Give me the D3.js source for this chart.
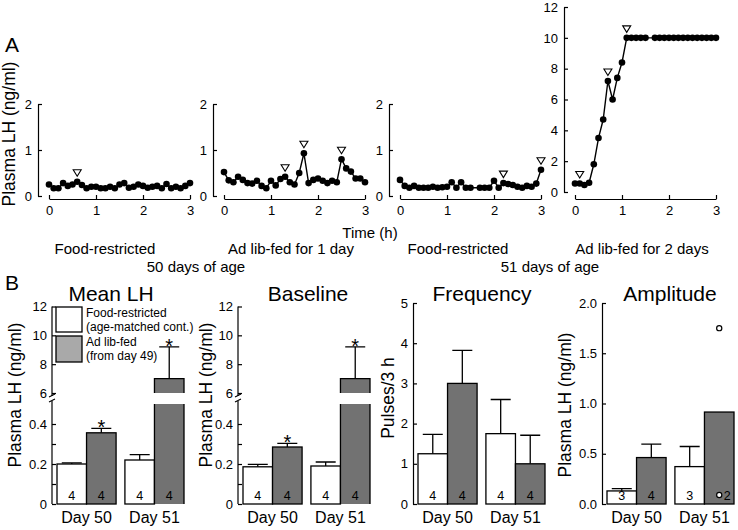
<!DOCTYPE html>
<html><head><meta charset="utf-8">
<script src="https://cdn.jsdelivr.net/npm/d3@7"></script>
<style>body{margin:0;background:#fff} text{font-family:"Liberation Sans",Arial,sans-serif}</style>
</head><body><svg id="c" width="738" height="530"></svg>
<script>
// ---------- DATA ----------
const sampleTimes = [0,0.1,0.2,0.3,0.4,0.5,0.6,0.7,0.8,0.9,1,1.1,1.2,1.3,1.4,1.5,1.6,1.7,1.8,1.9,2,2.1,2.2,2.3,2.4,2.5,2.6,2.7,2.8,2.9,3];
const lhFoodRestricted50 = [0.25,0.17,0.17,0.28,0.22,0.25,0.31,0.24,0.17,0.2,0.2,0.17,0.17,0.2,0.17,0.25,0.28,0.18,0.2,0.25,0.22,0.18,0.2,0.22,0.17,0.26,0.17,0.2,0.17,0.22,0.28];
const lhAdLib1Day = [0.52,0.34,0.3,0.42,0.35,0.28,0.27,0.33,0.22,0.17,0.33,0.23,0.37,0.42,0.3,0.25,0.5,0.93,0.28,0.35,0.38,0.33,0.28,0.33,0.3,0.8,0.6,0.53,0.38,0.38,0.3];
const lhFoodRestricted51 = [0.35,0.22,0.18,0.22,0.18,0.18,0.18,0.2,0.18,0.19,0.2,0.3,0.18,0.3,0.18,0.18,null,0.18,0.18,0.18,0.33,0.18,0.28,0.26,0.24,0.2,0.18,0.22,0.2,0.27,0.57];
const lhAdLib2Days = [0.55,0.55,0.45,0.6,1.8,3.5,4.7,7.2,6.0,7.4,8.4,10,10,10,10,10,null,10,10,10,10,10,10,10,10,10,10,10,10,10,10];
const pulsesFR50 = [0.6];
const pulsesAL1 = [1.3,1.7,2.5];
const pulsesFR51 = [2.2,3];
const pulsesAL2 = [0.1,0.7,1.1];
const timeTicks = [0,1,2,3];
const lhTicksSmall = [0,1,2];
const lhTicksLarge = [0,2,4,6,8,10,12];

const days = ["Day 50","Day 51"];
const groupsB = ["Food-restricted","Ad lib-fed"];
const meanFR = [0.20,0.22],  meanFRsem = [0.006,0.027];
const meanAL = [0.356,7.0],  meanALsem = [0.022,2.2];
const baseFR = [0.186,0.19], baseFRsem = [0.012,0.02];
const baseAL = [0.285,7.0],  baseALsem = [0.018,2.2];
const freqFR = [1.25,1.75],  freqFRsem = [0.48,0.85];
const freqAL = [3.0,1.0],    freqALsem = [0.82,0.71];
const ampFR = [0.13,0.372],  ampFRsem = [0.022,0.2];
const ampAL = [0.462,0.915], ampALsem = [0.133,null];
const ampIndivAL51 = [1.75,0.09];
const nFR = [4,4], nAL = [4,4], nAmpFR = [3,3], nAmpAL = [4,2];
const starAL = [true,true];
const lowTicks = [0,0.2,0.4], lowMinor = [0.1,0.3], highTicks = [6,8,10,12];
const freqTicks = [0,1,2,3,4,5];
const ampTicks = [0,0.5,1,1.5,2];

// ---------- DRAW ----------
const svg = d3.select("#c");
const FONT = '"Liberation Sans", Arial, sans-serif';
const TICKF = 13;

function styleAxis(g){
  g.attr("font-size",TICKF).attr("font-family",FONT);
  g.selectAll("path.domain").attr("stroke-width",1.2);
  g.selectAll(".tick line").attr("stroke-width",1.2);
  g.selectAll("text").attr("fill","#000");
}

function linePanel(ax, vals, pulses, yMax, yBot, yTop, yTicks){
  const x = d3.scaleLinear().domain([0,3]).range([ax+11, ax+152]);
  const y = d3.scaleLinear().domain([0,yMax]).range([yBot, yTop]);
  const g = svg.append("g");
  g.append("g").attr("transform",`translate(${ax},0)`)
    .call(d3.axisLeft(y).tickValues(yTicks).tickFormat(d3.format("d")).tickSizeInner(-4).tickSizeOuter(0).tickPadding(6)).call(styleAxis);
  g.append("g").attr("transform",`translate(0,199)`)
    .call(d3.axisBottom(x).tickValues(timeTicks).tickFormat(d3.format("d")).tickSizeInner(-4).tickSizeOuter(0).tickPadding(7)).call(styleAxis);
  const pts = sampleTimes.map((t,i)=>({t, v: vals[i]})).filter(d=>d.v!=null);
  g.append("path").datum(pts).attr("d", d3.line().x(d=>x(d.t)).y(d=>y(d.v)))
    .attr("fill","none").attr("stroke","#000").attr("stroke-width",1.4);
  g.selectAll("circle").data(pts).join("circle")
    .attr("cx",d=>x(d.t)).attr("cy",d=>y(d.v)).attr("r",3.3).attr("fill","#000");
  pulses.forEach(t=>{
    const i = sampleTimes.findIndex(s=>Math.abs(s-t)<1e-6);
    const px = x(t), py = y(vals[i]) - 9;
    g.append("path").attr("d",`M${px-4},${py-3}L${px+4},${py-3}L${px},${py+3.5}Z`)
      .attr("fill","#fff").attr("stroke","#000").attr("stroke-width",1.1);
  });
}
linePanel(38, lhFoodRestricted50, pulsesFR50, 2, 196, 104, lhTicksSmall);
linePanel(213, lhAdLib1Day, pulsesAL1, 2, 196, 104, lhTicksSmall);
linePanel(389, lhFoodRestricted51, pulsesFR51, 2, 196, 104, lhTicksSmall);
linePanel(564, lhAdLib2Days, pulsesAL2, 12, 192, 7, lhTicksLarge);

function txt(x,y,s,size,anchor="middle",rot=0){
  const t = svg.append("text").attr("x",x).attr("y",y).attr("font-size",size)
    .attr("text-anchor",anchor).attr("font-family",FONT).text(s);
  if(rot) t.attr("transform",`rotate(${rot},${x},${y})`);
  return t;
}
txt(12,52,"A",21);
txt(12,290,"B",21);
txt(15,134,"Plasma LH (ng/ml)",17.5,"middle",-90);
txt(370,238,"Time (h)",15);
txt(105,254,"Food-restricted",15);
txt(291,254,"Ad lib-fed for 1 day",15);
txt(196,272,"50 days of age",15);
txt(458,254,"Food-restricted",15);
txt(642,254,"Ad lib-fed for 2 days",15);
txt(550,272,"51 days of age",15);

const BOT = 504;
function barPanel(o){
  const g = svg.append("g");
  const ax = o.ax;
  const bx = d3.scaleBand().domain(days).range([ax+5, ax+132]).paddingInner(0.13);
  const sx = d3.scaleBand().domain(groupsB).range([0, bx.bandwidth()]);
  let yPos, isHigh = v=>false, yLow, yHigh;
  if(o.broken){
    yLow = d3.scaleLinear().domain([0,0.5]).range([BOT,404]);
    yHigh = d3.scaleLinear().domain([6,12]).range([393,306.5]);
    isHigh = v => v>0.5;
    yPos = v => v>0.5 ? yHigh(v) : yLow(v);
    g.append("g").attr("transform",`translate(${ax},0)`)
      .call(d3.axisLeft(yLow).tickValues(lowTicks).tickFormat(d3.format("")).tickSizeInner(-4).tickSizeOuter(0).tickPadding(5)).call(styleAxis)
      .call(a=>a.select(".domain").attr("d",`M0,${BOT}V401`));
    g.append("g").attr("transform",`translate(${ax},0)`)
      .call(d3.axisLeft(yLow).tickValues(lowMinor).tickFormat("").tickSizeInner(-4).tickSizeOuter(0)).call(styleAxis)
      .call(a=>a.select(".domain").remove());
    g.append("g").attr("transform",`translate(${ax},0)`)
      .call(d3.axisLeft(yHigh).tickValues(highTicks).tickFormat(d3.format("d")).tickSizeInner(-4).tickSizeOuter(0).tickPadding(5)).call(styleAxis)
      .call(a=>a.select(".domain").attr("d",`M0,396V306.5`));
    g.append("path").attr("d",`M${ax-3},${397}L${ax+3},${394}M${ax-3},${402}L${ax+3},${399}`)
      .attr("stroke","#000").attr("stroke-width",1.1).attr("fill","none");
  } else {
    const ys = d3.scaleLinear().domain(o.domain).range([BOT, 303]);
    yPos = ys;
    g.append("g").attr("transform",`translate(${ax},0)`)
      .call(d3.axisLeft(ys).tickValues(o.ticks).tickFormat(o.fmt).tickSizeInner(-4).tickSizeOuter(0).tickPadding(5)).call(styleAxis);
  }
  const bars = [];
  days.forEach((d,di)=>{
    bars.push({day:d, grp:groupsB[0], v:o.fr[di], e:o.frE[di], n:o.nFR[di], star:false, fill:"#fff", ind:null});
    bars.push({day:d, grp:groupsB[1], v:o.al[di], e:o.alE[di], n:o.nAL[di], star:o.star?o.star[di]:false, fill:"#727272", ind:(o.ind && di===1)?o.ind:null});
  });
  bars.forEach(b=>{
    const x0 = bx(b.day)+sx(b.grp), w = sx.bandwidth(), cx = x0+w/2;
    if(b.e!=null){
      const ey = yPos(b.v+b.e), topY = yPos(b.v);
      g.append("path").attr("d",`M${cx},${topY}V${ey}M${cx-10},${ey}H${cx+10}`)
        .attr("stroke","#000").attr("stroke-width",1.3).attr("fill","none");
    }
    if(isHigh(b.v)){
      const yl = yLow(0.5), yh0 = yHigh(6), yt = yHigh(b.v);
      g.append("rect").attr("x",x0).attr("y",yl).attr("width",w).attr("height",BOT-yl).attr("fill",b.fill);
      g.append("rect").attr("x",x0).attr("y",yt).attr("width",w).attr("height",yh0-yt).attr("fill",b.fill);
      g.append("path").attr("d",`M${x0},${BOT}V${yl}M${x0+w},${BOT}V${yl}M${x0},${yh0}V${yt}H${x0+w}V${yh0}`)
        .attr("stroke","#000").attr("stroke-width",1.3).attr("fill","none");
    } else {
      const yt = yPos(b.v);
      g.append("rect").attr("x",x0).attr("y",yt).attr("width",w).attr("height",BOT-yt)
        .attr("fill",b.fill).attr("stroke","#000").attr("stroke-width",1.3);
    }
    if(b.star){
      const ey = yPos(b.v+b.e);
      g.append("text").attr("x",cx).attr("y",ey+6).attr("text-anchor","middle")
        .attr("font-size",20).attr("font-family",FONT).text("*");
    }
    let nx = cx;
    if(b.ind){
      b.ind.forEach(v=>{
        g.append("circle").attr("cx",cx).attr("cy",yPos(v)).attr("r",2.6)
          .attr("fill","#fff").attr("stroke","#000").attr("stroke-width",1.2);
      });
      nx = cx+8;
    }
    g.append("text").attr("x",nx).attr("y",BOT-4).attr("text-anchor","middle")
      .attr("font-size",12.5).attr("font-family",FONT).text(b.n);
  });
  days.forEach(d=>{
    txt(bx(d)+bx.bandwidth()/2, 523, d, 16);
  });
  txt(o.titleX, 301, o.title, 21);
  txt(o.labX, o.labY, o.yLabel, o.labSize || 17.5, "middle", -90);
}

barPanel({ax:52, broken:true, fr:meanFR, frE:meanFRsem, al:meanAL, alE:meanALsem, nFR, nAL, star:starAL,
  title:"Mean LH", titleX:111, yLabel:"Plasma LH (ng/ml)", labX:21, labY:395});
barPanel({ax:238, broken:true, fr:baseFR, frE:baseFRsem, al:baseAL, alE:baseALsem, nFR, nAL, star:starAL,
  title:"Baseline", titleX:308, yLabel:"Plasma LH (ng/ml)", labX:212, labY:395});
barPanel({ax:413, broken:false, domain:[0,5], ticks:freqTicks, fmt:d3.format("d"), fr:freqFR, frE:freqFRsem, al:freqAL, alE:freqALsem, nFR, nAL,
  title:"Frequency", titleX:482, yLabel:"Pulses/3 h", labX:394, labY:398});
barPanel({ax:602, broken:false, domain:[0,2], ticks:ampTicks, fmt:d3.format(".1f"), fr:ampFR, frE:ampFRsem, al:ampAL, alE:ampALsem, nFR:nAmpFR, nAL:nAmpAL, ind:ampIndivAL51,
  title:"Amplitude", titleX:670, yLabel:"Plasma LH (ng/ml)", labX:571, labY:405});

// legend
const lg = svg.append("g");
lg.append("rect").attr("x",56).attr("y",307).attr("width",26).attr("height",25).attr("fill","#fff").attr("stroke","#000").attr("stroke-width",1.3);
lg.append("rect").attr("x",56).attr("y",336).attr("width",26).attr("height",26).attr("fill","#a9a9a9").attr("stroke","#000").attr("stroke-width",1.3);
txt(86,317,"Food-restricted",12,"start");
txt(86,331,"(age-matched cont.)",12,"start");
txt(86,346,"Ad lib-fed",12,"start");
txt(86,360,"(from day 49)",12,"start");
</script></body></html>
